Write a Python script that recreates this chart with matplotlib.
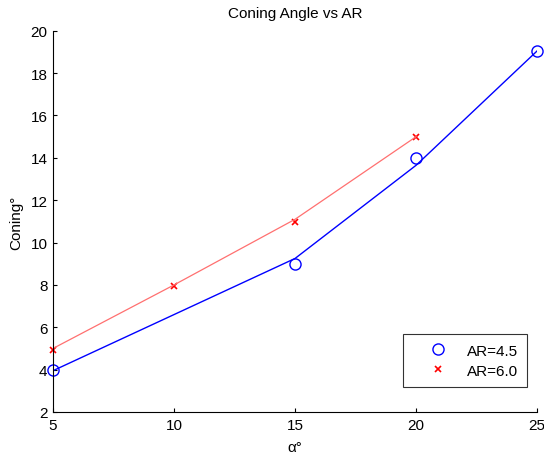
import matplotlib
matplotlib.use('Agg')
import matplotlib.pyplot as plt

plt.rcParams['font.family'] = ['Liberation Sans', 'DejaVu Sans']

# measured points
alpha_45 = [5, 15, 20, 25]
coning_45 = [4.0, 9.0, 14.0, 19.05]
alpha_60 = [5, 10, 15, 20]
coning_60 = [4.95, 7.95, 10.95, 15.0]

# fitted curves
fit_45 = [3.95, 9.25, 13.65, 19.05]
fit_60 = [5.0, 8.0, 11.1, 15.0]

xticks = [5, 10, 15, 20, 25]
yticks = [2, 4, 6, 8, 10, 12, 14, 16, 18, 20]

fig = plt.figure(figsize=(5.44, 4.56), dpi=100)
ax = fig.add_axes([0.0974, 0.0943, 0.89, 0.836])

ax.plot(alpha_45, coning_45, 'o', color='blue', mfc='none', ms=8, mew=1, label='AR=4.5', clip_on=False)
ax.plot(alpha_60, coning_60, 'x', color='red', ms=4, mew=1.2, label='AR=6.0', clip_on=False)
ax.plot(alpha_45, fit_45, '-', color='blue', lw=1)
ax.plot(alpha_60, fit_60, '-', color='#ff7070', lw=0.9)

ax.set_xlim(5, 25)
ax.set_ylim(2, 20)
ax.set_xticks(xticks)
ax.set_yticks(yticks)
ax.tick_params(direction='in', length=3, labelsize=11, width=0.8, pad=4)
ax.spines['top'].set_visible(False)
ax.spines['right'].set_visible(False)

ax.set_title('Coning Angle vs AR', fontsize=11, pad=10)
ax.set_xlabel('\u03b1\u00b0', fontsize=11, labelpad=6)
ax.set_ylabel('Coning\u00b0', fontsize=11, labelpad=5)

leg = ax.legend(loc='lower right', bbox_to_anchor=(0.979, 0.066), borderaxespad=0,
                fancybox=False, edgecolor='black', fontsize=11, handletextpad=0.15,
                borderpad=0.6, labelspacing=0.4, handlelength=3.4)
leg.get_frame().set_linewidth(0.8)

fig.savefig('out.png', dpi=100)
